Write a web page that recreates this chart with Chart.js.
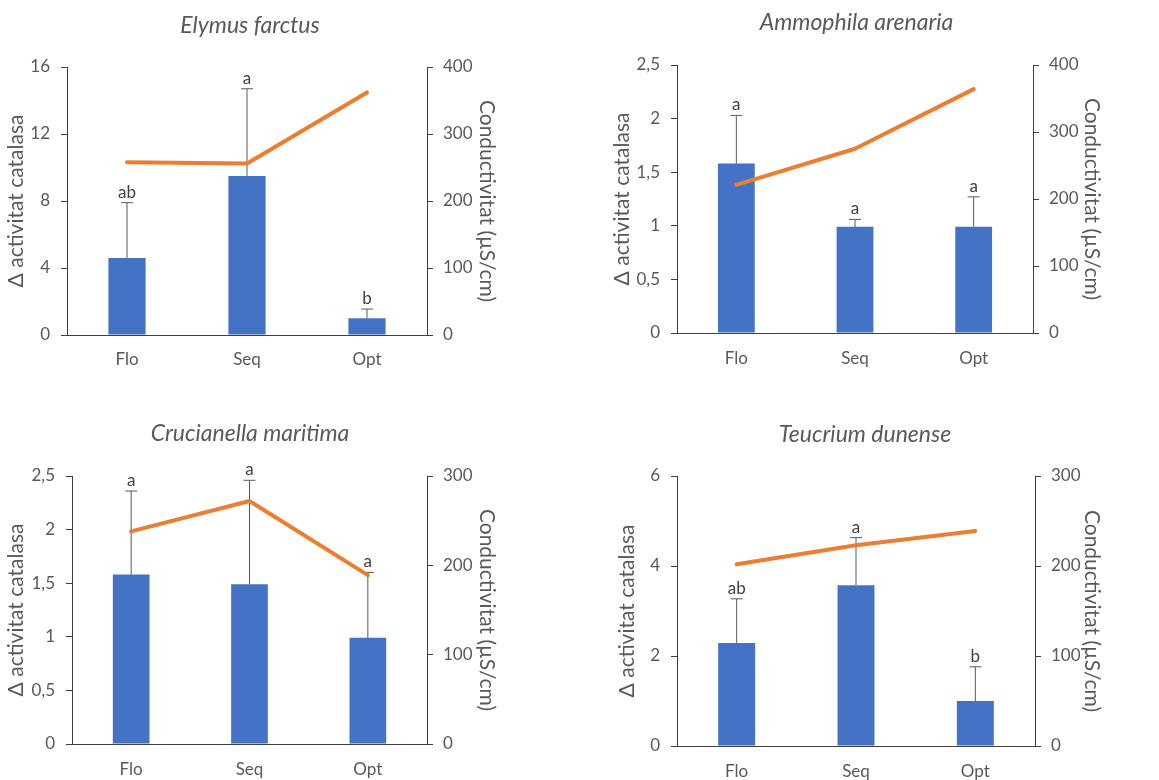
<!DOCTYPE html>
<html>
<head>
<meta charset="utf-8">
<script src="https://cdn.jsdelivr.net/npm/chart.js@4"></script>
<style>
  body { margin: 0; background: #fff; width: 1159px; height: 780px; position: relative; overflow: hidden; }
  canvas { position: absolute; }
</style>
</head>
<body>
<canvas id="c1" width="500" height="380" style="left:0px;top:0px"></canvas>
<canvas id="c2" width="513" height="378" style="left:600px;top:0px"></canvas>
<canvas id="c3" width="500" height="380" style="left:0px;top:400px"></canvas>
<canvas id="c4" width="536" height="380" style="left:597px;top:400px"></canvas>
<script>
const categories = ['Flo', 'Seq', 'Opt'];

// Elymus farctus
const elymusBars = [4.6, 9.5, 1.0];
const elymusErr = [3.3, 5.2, 0.55];
const elymusCond = [258, 256, 362];
const elymusLetters = ['ab', 'a', 'b'];
const elymusLeftTicks = ['0', '4', '8', '12', '16'];
const elymusRightTicks = ['0', '100', '200', '300', '400'];

// Ammophila arenaria
const ammoBars = [1.58, 0.99, 0.99];
const ammoErr = [0.45, 0.07, 0.28];
const ammoCond = [221, 275, 364];
const ammoLetters = ['a', 'a', 'a'];
const ammoLeftTicks = ['0', '0,5', '1', '1,5', '2', '2,5'];
const ammoRightTicks = ['0', '100', '200', '300', '400'];

// Crucianella maritima
const crucBars = [1.58, 1.49, 0.99];
const crucErr = [0.78, 0.97, 0.61];
const crucCond = [238, 272, 189];
const crucLetters = ['a', 'a', 'a'];
const crucLeftTicks = ['0', '0,5', '1', '1,5', '2', '2,5'];
const crucRightTicks = ['0', '100', '200', '300'];

// Teucrium dunense
const teucBars = [2.29, 3.57, 1.0];
const teucErr = [0.98, 1.06, 0.76];
const teucCond = [202, 223, 239];
const teucLetters = ['ab', 'a', 'b'];
const teucLeftTicks = ['0', '2', '4', '6'];
const teucRightTicks = ['0', '100', '200', '300'];

const FONT = 'Lato, "Open Sans", sans-serif';
const GREY = '#595959';
const AXIS = '#404040';

// error bars (upper only) + significance letters
const errorBars = {
    id: 'errorBars',
    afterDatasetDraw(chart, args) {
        const ds = chart.data.datasets[args.index];
        if (!ds.errors) return;
        const ctx = chart.ctx;
        const y = chart.scales.y;
        ctx.save();
        ctx.strokeStyle = GREY;
        ctx.lineWidth = 1;
        args.meta.data.forEach((bar, i) => {
            const top = y.getPixelForValue(ds.data[i] + ds.errors[i]);
            ctx.beginPath();
            ctx.moveTo(bar.x, bar.y);
            ctx.lineTo(bar.x, top);
            ctx.moveTo(bar.x - 6, top);
            ctx.lineTo(bar.x + 6, top);
            ctx.stroke();
        });
        ctx.restore();
    },
    afterDatasetsDraw(chart) {
        const ctx = chart.ctx;
        const y = chart.scales.y;
        chart.data.datasets.forEach((ds, di) => {
            if (!ds.letters) return;
            const meta = chart.getDatasetMeta(di);
            ctx.save();
            ctx.fillStyle = AXIS;
            ctx.font = '17px ' + FONT;
            ctx.textAlign = 'center';
            ctx.textBaseline = 'alphabetic';
            meta.data.forEach((bar, i) => {
                const top = y.getPixelForValue(ds.data[i] + ds.errors[i]);
                ctx.fillText(ds.letters[i], bar.x, top - 5);
            });
            ctx.restore();
        });
    }
};

function makeChart(id, o) {
    return new Chart(document.getElementById(id), {
        type: 'bar',
        data: {
            labels: categories,
            datasets: [{
                type: 'line',
                data: o.cond,
                yAxisID: 'y1',
                borderColor: '#ED7D31',
                borderWidth: 4,
                borderCapStyle: 'round',
                borderJoinStyle: 'round',
                pointRadius: 0,
                tension: 0,
                order: 0
            }, {
                data: o.bars,
                errors: o.err,
                letters: o.letters,
                yAxisID: 'y',
                backgroundColor: '#4472C4',
                categoryPercentage: 1,
                barPercentage: 0.31,
                order: 1
            }]
        },
        options: {
            responsive: false,
            animation: false,
            devicePixelRatio: 1,
            layout: { padding: 0 },
            plugins: {
                legend: { display: false },
                tooltip: { enabled: false },
                title: {
                    display: true,
                    text: o.title,
                    color: GREY,
                    font: { family: FONT, size: 23, style: 'italic', weight: 'normal' },
                    padding: { top: o.tTop, bottom: o.tBottom }
                }
            },
            scales: {
                x: {
                    afterFit: s => { s.height = o.H; },
                    grid: { display: false, drawTicks: false },
                    border: { display: true, color: AXIS, width: 1 },
                    ticks: { color: GREY, padding: o.xPad, font: { family: FONT, size: 17 } }
                },
                y: {
                    position: 'left',
                    min: 0, max: o.lMax,
                    afterFit: s => { s.width = o.L; },
                    afterBuildTicks: s => { s.ticks = o.lTicks.map((t, i) => ({ value: i * o.lStep })); },
                    grid: { drawOnChartArea: false, drawTicks: true, tickLength: 6, color: AXIS },
                    border: { display: true, color: AXIS, width: 1 },
                    ticks: {
                        color: GREY, padding: 11, font: { family: FONT, size: 17 },
                        callback: (v, i) => o.lTicks[i]
                    },
                    title: {
                        display: true, text: 'Δ activitat catalasa', color: GREY,
                        font: { family: FONT, size: 21 }, padding: { top: o.lTitlePad, bottom: 0 }
                    }
                },
                y1: {
                    position: 'right',
                    min: 0, max: o.rMax,
                    afterFit: s => { s.width = o.R; },
                    afterBuildTicks: s => { s.ticks = o.rTicks.map((t, i) => ({ value: i * 100 })); },
                    grid: { drawOnChartArea: false, drawTicks: true, tickLength: 6, color: AXIS },
                    border: { display: true, color: AXIS, width: 1 },
                    ticks: {
                        color: GREY, padding: 10, font: { family: FONT, size: 17 },
                        callback: (v, i) => o.rTicks[i]
                    },
                    title: {
                        display: true, text: 'Conductivitat (µS/cm)', color: GREY,
                        font: { family: FONT, size: 21 }, padding: { top: o.rTitlePad, bottom: 0 }
                    }
                }
            }
        },
        plugins: [errorBars]
    });
}

makeChart('c1', {
    title: 'Elymus farctus', bars: elymusBars, err: elymusErr, cond: elymusCond, letters: elymusLetters,
    lTicks: elymusLeftTicks, lMax: 16, lStep: 4, rTicks: elymusRightTicks, rMax: 400,
    L: 67, R: 73, H: 45, tTop: 12.2, tBottom: 27.2, xPad: 14.8, lTitlePad: 3.4, rTitlePad: 0.4
});

makeChart('c2', {
    title: 'Ammophila arenaria', bars: ammoBars, err: ammoErr, cond: ammoCond, letters: ammoLetters,
    lTicks: ammoLeftTicks, lMax: 2.5, lStep: 0.5, rTicks: ammoRightTicks, rMax: 400,
    L: 77, R: 80, H: 45, tTop: 9.2, tBottom: 28.2, xPad: 15, lTitlePad: 9.4, rTitlePad: 8.7
});

makeChart('c3', {
    title: 'Crucianella maritima', bars: crucBars, err: crucErr, cond: crucCond, letters: crucLetters,
    lTicks: crucLeftTicks, lMax: 2.5, lStep: 0.5, rTicks: crucRightTicks, rMax: 300,
    L: 72, R: 73, H: 36, tTop: 19.7, tBottom: 28.7, xPad: 15.8, lTitlePad: 3.4, rTitlePad: 0.7
});

makeChart('c4', {
    title: 'Teucrium dunense', bars: teucBars, err: teucErr, cond: teucCond, letters: teucLetters,
    lTicks: teucLeftTicks, lMax: 6, lStep: 2, rTicks: teucRightTicks, rMax: 300,
    L: 80, R: 98, H: 34, tTop: 21.2, tBottom: 27.2, xPad: 15.5, lTitlePad: 18.1, rTitlePad: 28.7
});
</script>
</body>
</html>
